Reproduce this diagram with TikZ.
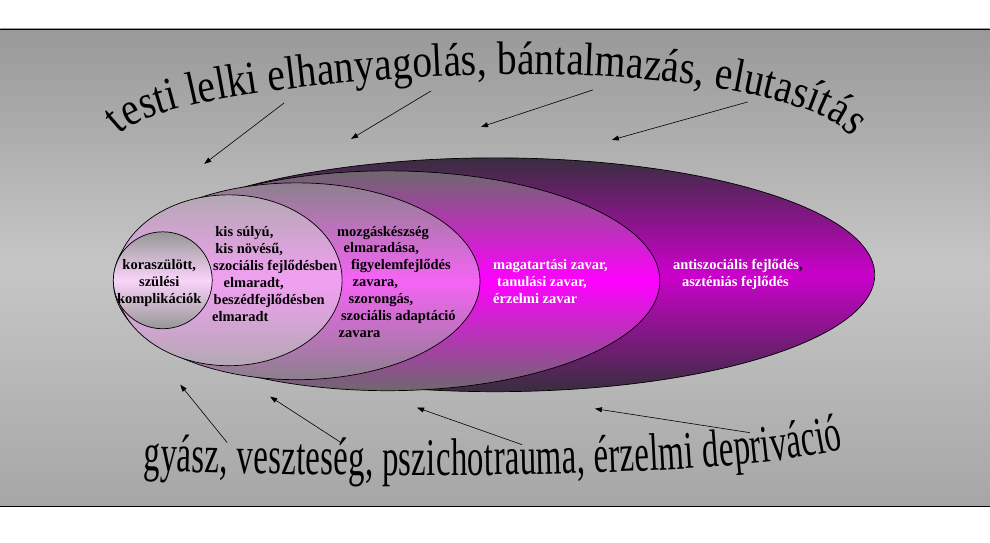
\documentclass[tikz,border=0pt]{standalone}
\usepackage{fontspec}
\setmainfont{Liberation Serif}
\newfontfamily\archfont[FakeStretch=0.84]{Liberation Serif}
\newfontfamily\bowfont[FakeStretch=0.62]{Liberation Serif}
\usetikzlibrary{arrows.meta,decorations.text}
\definecolor{bgtop}{RGB}{153,153,153}
\definecolor{bgmid}{RGB}{198,198,198}
\definecolor{bgbot}{RGB}{166,166,166}
\definecolor{rimA}{RGB}{56,46,62}
\definecolor{coreA}{RGB}{204,0,204}
\definecolor{rimB}{RGB}{110,104,110}
\definecolor{coreB}{RGB}{255,0,255}
\definecolor{rimC}{RGB}{140,128,140}
\definecolor{coreC}{RGB}{245,100,245}
\definecolor{rimD}{RGB}{180,168,180}
\definecolor{coreD}{RGB}{242,160,242}
\definecolor{rimE}{RGB}{150,150,150}
\definecolor{coreE}{RGB}{250,212,250}

\begin{document}
\begin{tikzpicture}[x=1pt,y=-1pt,
		ring/.style 2 args={draw=black,line width=0.7pt,top color=#1,bottom color=#1,middle color=#2},
		arr/.style={-{Triangle[length=7pt,width=5pt]},line width=0.6pt},
		lbl/.style={font=\bfseries\fontsize{14.5}{17}\selectfont,inner sep=0pt,align=left,anchor=north west}]
		\fill[white] (0,0) rectangle (990,543);
		\path[top color=bgtop,bottom color=bgbot,middle color=bgmid] (0,29) rectangle (990,507);
		\draw[line width=0.8pt] (0,29) -- (990,29);
		\draw[line width=0.8pt] (0,507) -- (990,507);
		% nested ellipses
		\coordinate (E5) at (495,275);
		\coordinate (E4) at (387.5,281);
		\coordinate (E3) at (296.5,281.5);
		\coordinate (E2) at (228.5,280.5);
		\coordinate (E1) at (162.5,280.5);
		\draw[ring={rimA}{coreA}] (E5) ellipse [x radius=380,y radius=117];
		\draw[ring={rimB}{coreB}] (E4) ellipse [x radius=272.5,y radius=110];
		\draw[ring={rimC}{coreC}] (E3) ellipse [x radius=183.5,y radius=98.5];
		\draw[ring={rimD}{coreD}] (E2) ellipse [x radius=113.5,y radius=85.5];
		\draw[ring={rimE}{coreE}] (E1) ellipse [x radius=49.5,y radius=48.5];
		\node[lbl,align=center,anchor=north] (N1) at (159,258.1) {\strut koraszülött,\\szülési\\komplikációk};
		\node[lbl] (N2) at (211.7,224.8) {\strut\hspace*{3.3pt}kis súlyú,\\\hspace*{3.3pt}kis növésű,\\\hspace*{1pt}szociális fejlődésben\\\hspace*{11.6pt}elmaradt,\\\hspace*{1.6pt}beszédfejlődésben\\elmaradt};
		\node[lbl] (N3) at (336.7,224.1) {\strut mozgáskészség\\\hspace*{6.6pt}elmaradása,\\\hspace*{14pt}figyelemfejlődés\\\hspace*{15.6pt}zavara,\\\hspace*{11.6pt}szorongás,\\\hspace*{4pt}szociális adaptáció\\\hspace*{1.6pt}zavara};
		\node[lbl,text=white] (N4) at (493,258.1) {\strut magatartási zavar,\\\hspace*{4pt}tanulási zavar,\\érzelmi zavar};
		\node[lbl,text=white] (N5) at (673,258.1) {\strut antiszociális fejlődés{\color{black},}\\\hspace*{9pt}aszténiás fejlődés};
		% arched texts
		\path[decorate,decoration={text along path,text align=fit to path,
			text={|\archfont\fontsize{47}{47}\selectfont|testi lelki elhanyagolás, bántalmazás, elutasítás}}]
			(120,135) .. controls (140,106) and (300,80) .. (482,75) .. controls (664,70) and (824,98) .. (851,137);
		\path[decorate,decoration={text along path,text align=fit to path,
			text={|\bowfont\fontsize{53}{53}\selectfont|gyász, veszteség, pszichotrauma, érzelmi depriváció}}]
			(143,471) .. controls (420,480) and (720,478) .. (843,450);
		% arrows
		\coordinate (A1) at (284,103);
		\coordinate (B1) at (204,164);
		\coordinate (A2) at (431,91);
		\coordinate (B2) at (351,139);
		\coordinate (A3) at (593,90);
		\coordinate (B3) at (481,127);
		\coordinate (A4) at (748,102);
		\coordinate (B4) at (612,140);
		\coordinate (C1) at (227,443);
		\coordinate (D1) at (180,385);
		\coordinate (C2) at (341,443);
		\coordinate (D2) at (270,397);
		\coordinate (C3) at (522,445);
		\coordinate (D3) at (417,408);
		\coordinate (C4) at (750,433);
		\coordinate (D4) at (595,409);
		\draw[arr] (A1) -- (B1);
		\draw[arr] (A2) -- (B2);
		\draw[arr] (A3) -- (B3);
		\draw[arr] (A4) -- (B4);
		\draw[arr] (C1) -- (D1);
		\draw[arr] (C2) -- (D2);
		\draw[arr] (C3) -- (D3);
		\draw[arr] (C4) -- (D4);
\end{tikzpicture}
\end{document}
